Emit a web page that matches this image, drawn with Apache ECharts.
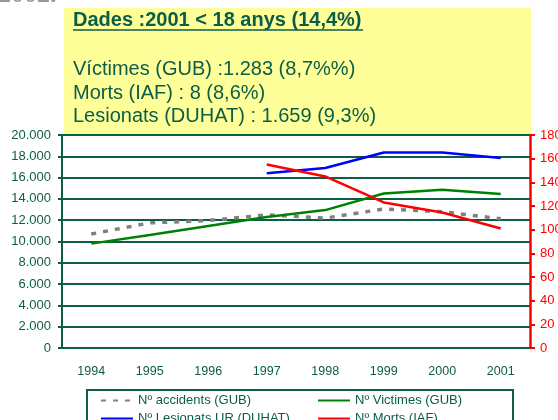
<!DOCTYPE html>
<html lang="ca">
<head>
    <meta charset="UTF-8">
    <title>Dades 2001</title>
    <script src="https://cdn.jsdelivr.net/npm/echarts@6/dist/echarts.min.js"></script>
    <style>
        html, body { margin: 0; padding: 0; background: #fff; }
        #chartmain { width: 558px; height: 420px; }
    </style>
</head>
<body>
<div id="chartmain"></div>
<script>
    // dades llegides del grafic
    var anys = ['1994', '1995', '1996', '1997', '1998', '1999', '2000', '2001'];
    var accidents = [10700, 11750, 11970, 12500, 12200, 13050, 12800, 12130];   // Nº accidents (GUB)
    var victimes = [9800, 10600, 11450, 12300, 12950, 14500, 14850, 14450];     // Nº Victimes (GUB)
    var lesionats = [null, null, null, 16400, 16900, 18350, 18350, 17850];      // Nº Lesionats UR (DUHAT)
    var morts = [null, null, null, 155, 145, 123, 114.5, 101];                  // Nº Morts (IAF) - eix dret

    var titol = 'Dades :2001 < 18 anys (14,4%)';
    var linies = ['Víctimes (GUB) :1.283 (8,7%%)', 'Morts (IAF) : 8 (8,6%)', 'Lesionats (DUHAT) : 1.659 (9,3%)'];

    var verd = '#0b5d48';
    var font = '"Liberation Sans", Arial, sans-serif';

    function punts(v) {
        return String(v).replace(/\B(?=(\d{3})+(?!\d))/g, '.');
    }

    // una llegenda per element, per posar-les en dues columnes
    function llegenda(nom, x, y) {
        return {
            left: x, top: y, padding: 0, itemGap: 0,
            itemWidth: 32, itemHeight: 14,
            itemStyle: {opacity: 0},
            textStyle: {color: verd, fontSize: 13, fontFamily: font},
            data: [nom]
        };
    }

    var myChart = echarts.init(document.getElementById('chartmain'));

    var option = {
        animation: false,
        textStyle: {fontFamily: font},
        grid: {left: 62, right: 28, top: 135, bottom: 72, outerBoundsMode: 'none'},
        legend: [
            llegenda('Nº accidents (GUB)', 100, 394),
            llegenda('Nº Lesionats UR (DUHAT)', 100, 412),
            llegenda('Nº Victimes (GUB)', 317, 394),
            llegenda('Nº Morts (IAF)', 317, 412)
        ],
        graphic: [
            {type: 'text', left: -2, top: -18, silent: true,
                style: {text: '2002.', font: 'bold 26px serif', fill: '#999'}},
            {type: 'rect', shape: {x: 64, y: 8, width: 467, height: 126}, z: -1, silent: true,
                style: {fill: '#ffff99'}},
            {type: 'text', x: 73, y: 20, silent: true,
                style: {text: titol, font: 'bold 20px ' + font, fill: verd, verticalAlign: 'middle'}},
            {type: 'line', shape: {x1: 73, y1: 30, x2: 363, y2: 30}, silent: true,
                style: {stroke: verd, lineWidth: 1.5}},
            {type: 'text', x: 73, y: 69, silent: true,
                style: {text: linies[0], font: '20px ' + font, fill: verd, verticalAlign: 'middle'}},
            {type: 'text', x: 73, y: 93, silent: true,
                style: {text: linies[1], font: '20px ' + font, fill: verd, verticalAlign: 'middle'}},
            {type: 'text', x: 73, y: 116, silent: true,
                style: {text: linies[2], font: '20px ' + font, fill: verd, verticalAlign: 'middle'}},
            {type: 'rect', shape: {x: 87, y: 390, width: 426, height: 50}, silent: true,
                style: {fill: 'none', stroke: verd, lineWidth: 2}}
        ],
        xAxis: {
            type: 'category',
            data: anys,
            boundaryGap: true,
            axisLine: {lineStyle: {color: verd, width: 2}},
            axisTick: {length: 5, lineStyle: {color: verd, width: 2}},
            axisLabel: {color: verd, fontSize: 12.5, margin: 17}
        },
        yAxis: [
            {
                type: 'value', min: 0, max: 20000, interval: 2000,
                axisLine: {show: true, lineStyle: {color: verd, width: 2}},
                axisTick: {show: true, length: 4, lineStyle: {color: verd, width: 2}},
                axisLabel: {color: verd, fontSize: 13, margin: 11, formatter: punts},
                splitLine: {lineStyle: {color: verd, width: 2}}
            },
            {
                type: 'value', min: 0, max: 180, interval: 20, position: 'right',
                axisLine: {show: true, lineStyle: {color: '#ff0000', width: 2.5}},
                axisTick: {show: true, length: 5, lineStyle: {color: '#ff0000', width: 2}},
                axisLabel: {color: '#ff0000', fontSize: 13, margin: 10},
                splitLine: {show: false}
            }
        ],
        series: [
            {
                name: 'Nº accidents (GUB)', type: 'line', data: accidents, symbol: 'none',
                lineStyle: {color: '#808080', width: 3.5, type: [5, 7], cap: 'butt'},
                itemStyle: {color: '#808080'}
            },
            {
                name: 'Nº Victimes (GUB)', type: 'line', data: victimes, symbol: 'none',
                lineStyle: {color: '#008000', width: 2.5},
                itemStyle: {color: '#008000'}
            },
            {
                name: 'Nº Lesionats UR (DUHAT)', type: 'line', data: lesionats, symbol: 'none',
                lineStyle: {color: '#0000ff', width: 2.5},
                itemStyle: {color: '#0000ff'}
            },
            {
                name: 'Nº Morts (IAF)', type: 'line', yAxisIndex: 1, data: morts, symbol: 'none',
                lineStyle: {color: '#ff0000', width: 2.5},
                itemStyle: {color: '#ff0000'}
            }
        ]
    };

    myChart.setOption(option);
</script>
</body>
</html>
